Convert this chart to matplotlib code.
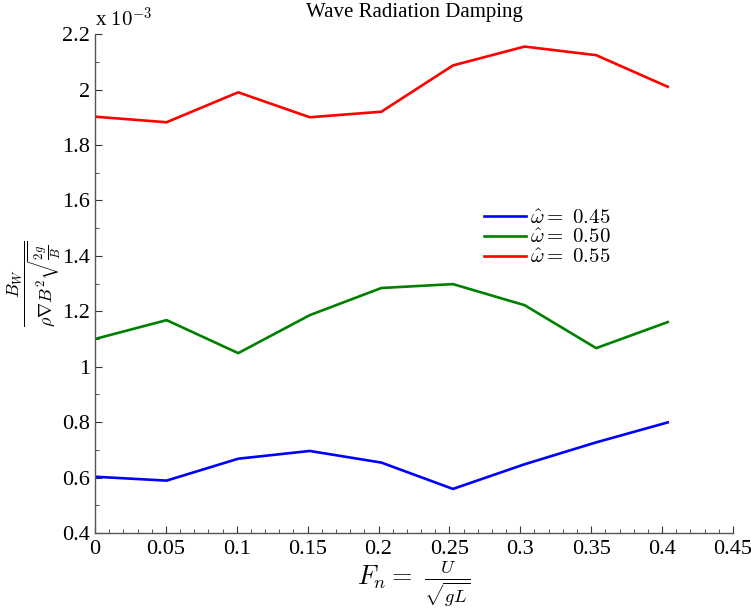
import matplotlib.pyplot as plt
from matplotlib.ticker import MultipleLocator, FuncFormatter

plt.rcParams['font.family'] = 'Liberation Serif'
plt.rcParams['mathtext.fontset'] = 'cm'

# Froude numbers
fn = [0.0, 0.0505, 0.101, 0.1515, 0.202, 0.2525, 0.303, 0.3535, 0.404]

# nondimensional wave radiation damping, in units of 1e-3
omega_045 = [0.603, 0.589, 0.668, 0.696, 0.654, 0.559, 0.648, 0.727, 0.799]
omega_050 = [1.100, 1.168, 1.049, 1.186, 1.284, 1.298, 1.222, 1.067, 1.161]
omega_055 = [1.902, 1.882, 1.990, 1.900, 1.920, 2.087, 2.155, 2.124, 2.010]
scale = 1e-3

fig = plt.figure(figsize=(7.51, 6.09), dpi=100)
ax = fig.add_axes([0.1265, 0.1248, 0.8495, 0.8192])

ax.plot(fn, [v * scale for v in omega_045], color=(0, 0, 1), lw=1.9, label=r'$\hat{\omega} = \ 0.45$')
ax.plot(fn, [v * scale for v in omega_050], color=(0, 0.5, 0), lw=1.9, label=r'$\hat{\omega} = \ 0.50$')
ax.plot(fn, [v * scale for v in omega_055], color=(1, 0, 0), lw=1.9, label=r'$\hat{\omega} = \ 0.55$')

ax.set_xlim(0, 0.45)
ax.set_ylim(0.4e-3, 2.2e-3)
ax.xaxis.set_major_locator(MultipleLocator(0.05))
ax.xaxis.set_minor_locator(MultipleLocator(0.01))
ax.yaxis.set_major_locator(MultipleLocator(0.2e-3))
ax.yaxis.set_minor_locator(MultipleLocator(0.1e-3))
ax.xaxis.set_major_formatter(FuncFormatter(lambda v, p: '%g' % round(v, 3)))
ax.yaxis.set_major_formatter(FuncFormatter(lambda v, p: '%g' % round(v / scale, 3)))

for s in ['top', 'right']:
    ax.spines[s].set_visible(False)
for s in ['left', 'bottom']:
    ax.spines[s].set_color('#555555')
    ax.spines[s].set_linewidth(1.0)
ax.tick_params(which='both', direction='in', labelsize=16, color='#333333')
ax.tick_params(which='major', length=5)
ax.tick_params(which='minor', length=3)
ax.tick_params(axis='x', pad=5)

ax.text(0.0, 1.005, r'x $10^{-3}$', transform=ax.transAxes, fontsize=15,
        va='bottom', ha='left')
ax.set_title('Wave Radiation Damping', fontsize=15, pad=12)

ax.set_xlabel(r'$F_n = \ \frac{U}{\sqrt{gL}}$', fontsize=19)
ax.xaxis.set_label_coords(0.5, -0.05)
ax.set_ylabel(r'$\dfrac{B_W}{\rho \nabla B^2 \sqrt{\frac{2g}{B}}}$', fontsize=13)
ax.yaxis.set_label_coords(-0.05, 0.5)

ax.legend(loc='upper left', bbox_to_anchor=(0.594, 0.67), frameon=False,
          fontsize=15, handlelength=2.0, handletextpad=0.2, labelspacing=0.0,
          borderpad=0)

fig.savefig('out.png', dpi=100)
